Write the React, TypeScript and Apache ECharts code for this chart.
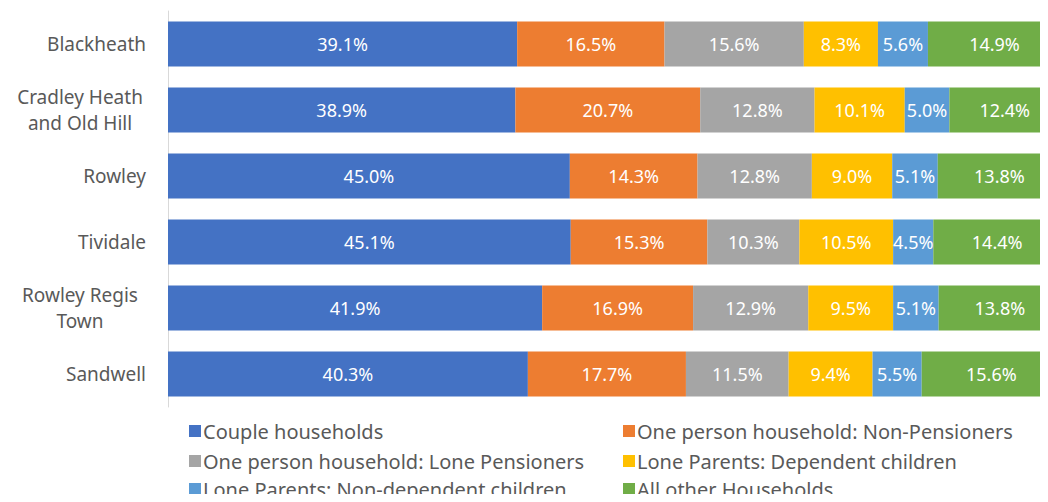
import React, { useEffect, useRef } from "react";
import * as echarts from "echarts";

const categories = ["Blackheath", "Cradley Heath\nand Old Hill", "Rowley", "Tividale", "Rowley Regis\nTown", "Sandwell"];
const seriesNames = [
  "Couple households",
  "One person household: Non-Pensioners",
  "One person household: Lone Pensioners",
  "Lone Parents: Dependent children",
  "Lone Parents: Non-dependent children",
  "All other Households",
];
const couple = [39.1, 38.9, 45.0, 45.1, 41.9, 40.3];
const onePersonNonPens = [16.5, 20.7, 14.3, 15.3, 16.9, 17.7];
const onePersonPens = [15.6, 12.8, 12.8, 10.3, 12.9, 11.5];
const loneDep = [8.3, 10.1, 9.0, 10.5, 9.5, 9.4];
const loneNonDep = [5.6, 5.0, 5.1, 4.5, 5.1, 5.5];
const allOther = [14.9, 12.4, 13.8, 14.4, 13.8, 15.6];
const colors = ["#4472C4", "#ED7D31", "#A5A5A5", "#FFC000", "#5B9BD5", "#70AD47"];

const FONT = "'Noto Sans', sans-serif";

export default function App() {
  const ref = useRef<HTMLDivElement>(null);
  useEffect(() => {
    const chart = echarts.init(ref.current!, null, { renderer: "svg" });
    const values = [couple, onePersonNonPens, onePersonPens, loneDep, loneNonDep, allOther];
    const legendPos = [
      [184, 416], [618, 416],
      [184, 446], [618, 446],
      [184, 474], [618, 474],
    ];
    chart.setOption({
      animation: false,
      color: colors,
      grid: { left: 168, top: 11, height: 396, width: 893, outerBoundsMode: "none", containLabel: false },
      xAxis: { type: "value", min: 0, max: 100, show: false },
      yAxis: {
        type: "category",
        data: categories,
        inverse: true,
        axisTick: { show: false },
        axisLine: { show: true, lineStyle: { color: "#D9D9D9", width: 1 } },
        axisLabel: {
          color: "#595959",
          fontSize: 19,
          fontFamily: FONT,
          margin: 22,
          lineHeight: 26,
          formatter: (v: string) => (v.includes("\n") ? v.split("\n").map((s) => `{c|${s}}`).join("\n") : v),
          rich: {
            c: { width: 132, align: "center", color: "#595959", fontSize: 19, fontFamily: FONT, lineHeight: 26 },
          },
        },
      },
      legend: seriesNames.map((n, i) => ({
        data: [n],
        left: legendPos[i][0],
        top: legendPos[i][1],
        itemWidth: 12,
        itemHeight: 12,
        itemGap: 0,
        icon: "rect",
        textStyle: { color: "#595959", fontSize: 20, fontFamily: FONT, padding: [0, 0, 0, -3] },
      })),
      series: seriesNames.map((n, i) => ({
        name: n,
        type: "bar",
        stack: "total",
        barWidth: 45,
        data: values[i],
        itemStyle: { color: colors[i] },
        label: {
          show: true,
          position: "inside",
          color: "#FFFFFF",
          fontSize: 18,
          fontFamily: FONT,
          formatter: (p: any) => `${Number(p.value).toFixed(1)}%`,
        },
      })),
    });
    return () => chart.dispose();
  }, []);
  return <div ref={ref} style={{ width: 1048, height: 502, margin: -8 }} />;
}
